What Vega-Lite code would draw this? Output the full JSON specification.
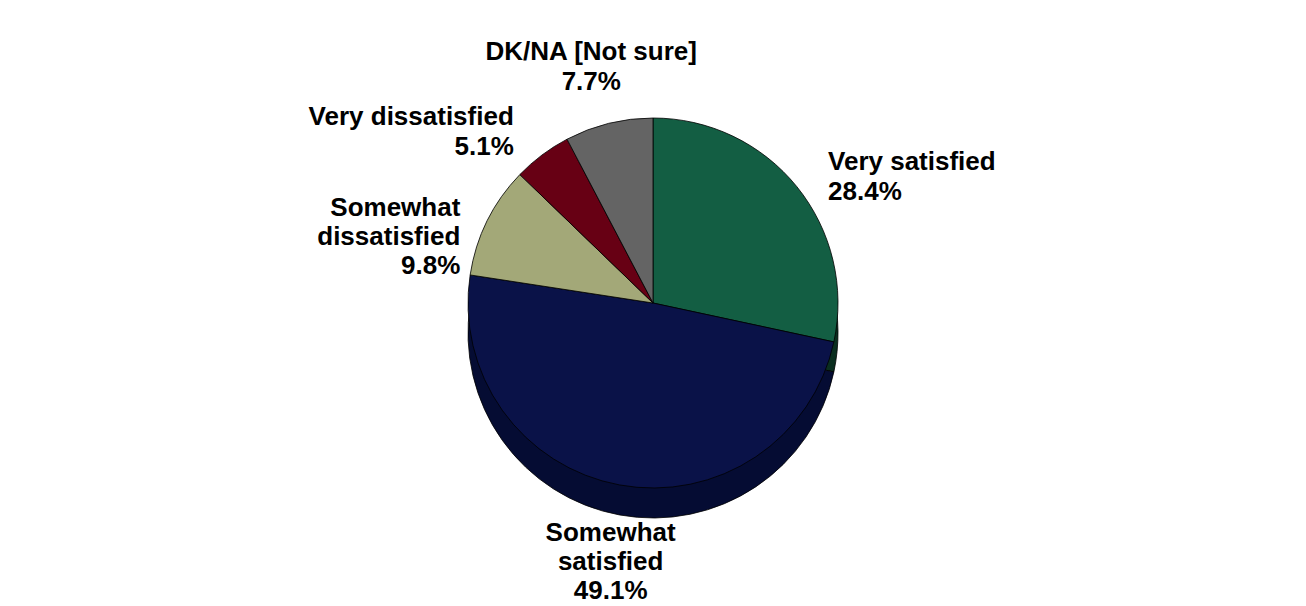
{
  "$schema": "https://vega.github.io/schema/vega-lite/v6.json",
  "autosize": {"type": "fit", "contains": "padding"},
  "width": 1306,
  "height": 606,
  "padding": 0,
  "background": "white",
  "config": {"view": {"stroke": null}},
  "data": {
    "values": [
      {"cat": "Very satisfied", "pct": 28.4, "ord": 1, "label": "Very satisfied\n28.4%"},
      {"cat": "Somewhat satisfied", "pct": 49.1, "ord": 2, "label": "Somewhat\nsatisfied\n49.1%"},
      {"cat": "Somewhat dissatisfied", "pct": 9.8, "ord": 3, "label": "Somewhat\ndissatisfied\n9.8%"},
      {"cat": "Very dissatisfied", "pct": 5.1, "ord": 4, "label": "Very dissatisfied\n5.1%"},
      {"cat": "DK/NA [Not sure]", "pct": 7.7, "ord": 5, "label": "DK/NA [Not sure]\n7.7%"}
    ]
  },
  "transform": [
    {"stack": "pct", "groupby": [], "sort": [{"field": "ord", "order": "ascending"}], "as": ["t0", "t1"]},
    {"calculate": "(datum.t0 + datum.t1) / 2", "as": "tm"}
  ],
  "resolve": {"scale": {"color": "independent"}},
  "layer": [
    {
      "mark": {"type": "arc", "radius": 185, "yOffset": 30, "stroke": "#000000", "strokeWidth": 0.8},
      "encoding": {
        "theta": {"field": "t0", "type": "quantitative", "scale": {"domain": [0, 100.1]}},
        "theta2": {"field": "t1"},
        "color": {
          "field": "cat", "type": "nominal", "legend": null,
          "scale": {
            "domain": ["Very satisfied", "Somewhat satisfied", "Somewhat dissatisfied", "Very dissatisfied", "DK/NA [Not sure]"],
            "range": ["#0A2E1F", "#050C33", "#70744F", "#45000C", "#404040"]
          }
        }
      }
    },
    {
      "mark": {"type": "arc", "radius": 185, "stroke": "#000000", "strokeWidth": 0.8},
      "encoding": {
        "theta": {"field": "t0", "type": "quantitative", "scale": {"domain": [0, 100.1]}},
        "theta2": {"field": "t1"},
        "color": {
          "field": "cat", "type": "nominal", "legend": null,
          "scale": {
            "domain": ["Very satisfied", "Somewhat satisfied", "Somewhat dissatisfied", "Very dissatisfied", "DK/NA [Not sure]"],
            "range": ["#135E43", "#0A1248", "#A3A878", "#670014", "#646464"]
          }
        }
      }
    },
    {
      "transform": [{"filter": "datum.ord == 1"}],
      "mark": {"type": "text", "radius": 225, "font": "Liberation Sans", "fontWeight": "bold", "fontSize": 26, "lineBreak": "\n", "lineHeight": 30, "align": "left", "baseline": "middle", "color": "#000000"},
      "encoding": {
        "theta": {"field": "tm", "type": "quantitative", "scale": {"domain": [0, 100.1]}},
        "text": {"field": "label", "type": "nominal"}
      }
    },
    {
      "transform": [{"filter": "datum.ord == 2"}],
      "mark": {"type": "text", "radius": 234, "font": "Liberation Sans", "fontWeight": "bold", "fontSize": 26, "lineBreak": "\n", "lineHeight": 29, "align": "center", "baseline": "middle", "color": "#000000"},
      "encoding": {
        "theta": {"field": "tm", "type": "quantitative", "scale": {"domain": [0, 100.1]}},
        "text": {"field": "label", "type": "nominal"}
      }
    },
    {
      "transform": [{"filter": "datum.ord == 3"}],
      "mark": {"type": "text", "radius": 215, "font": "Liberation Sans", "fontWeight": "bold", "fontSize": 26, "lineBreak": "\n", "lineHeight": 29, "align": "right", "baseline": "middle", "color": "#000000"},
      "encoding": {
        "theta": {"field": "tm", "type": "quantitative", "scale": {"domain": [0, 100.1]}},
        "text": {"field": "label", "type": "nominal"}
      }
    },
    {
      "transform": [{"filter": "datum.ord == 4"}],
      "mark": {"type": "text", "radius": 232, "font": "Liberation Sans", "fontWeight": "bold", "fontSize": 26, "lineBreak": "\n", "lineHeight": 30, "align": "right", "baseline": "middle", "color": "#000000"},
      "encoding": {
        "theta": {"field": "tm", "type": "quantitative", "scale": {"domain": [0, 100.1]}},
        "text": {"field": "label", "type": "nominal"}
      }
    },
    {
      "transform": [{"filter": "datum.ord == 5"}],
      "mark": {"type": "text", "radius": 258, "font": "Liberation Sans", "fontWeight": "bold", "fontSize": 26, "lineBreak": "\n", "lineHeight": 30, "align": "center", "baseline": "middle", "color": "#000000"},
      "encoding": {
        "theta": {"field": "tm", "type": "quantitative", "scale": {"domain": [0, 100.1]}},
        "text": {"field": "label", "type": "nominal"}
      }
    }
  ]
}
